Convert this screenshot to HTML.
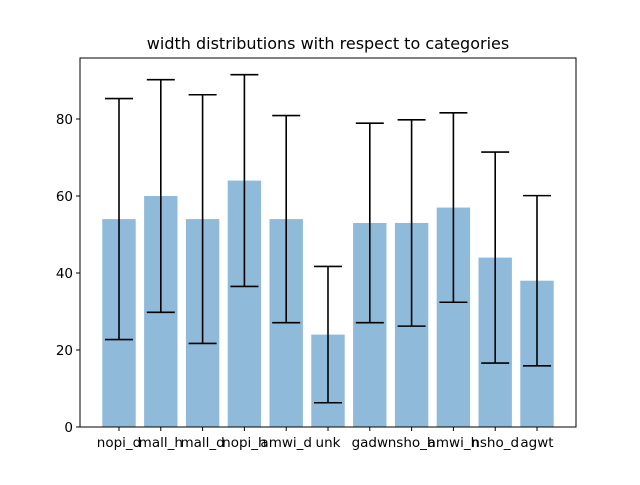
<!DOCTYPE html>
<html><head><meta charset="utf-8"><style>
body{margin:0;background:#fff}
svg{font-family:"DejaVu Sans","Liberation Sans",sans-serif}
</style></head><body>
<svg id="chart" width="640" height="480"></svg>
<script>
const categories=["nopi_d","mall_h","mall_d","nopi_h","amwi_d","unk","gadw","nsho_h","amwi_h","nsho_d","agwt"];
const means=[54,60,54,64,54,24,53,53,57,44,38];
const errors=[31.3,30.2,32.3,27.5,26.9,17.7,25.9,26.8,24.6,27.4,22.1];
const yTicks=[0,20,40,60,80];
const NS="http://www.w3.org/2000/svg";
const svg=document.getElementById('chart');
const L=80,R=576,T=58,B=427;
const y=v=>B-v*3.85;
const x=i=>119+i*41.8;
function mk(t,a){const e=document.createElementNS(NS,t);for(const k in a)e.setAttribute(k,a[k]);svg.appendChild(e);return e;}
const title=mk('text',{x:328,y:49,'text-anchor':'middle','font-size':16});
title.textContent='width distributions with respect to categories';


categories.forEach((c,i)=>{
 const b=mk('rect',{x:x(i)-16.7,y:y(means[i]),width:33.4,height:B-y(means[i]),fill:'#8fbada'});
 
 
});
categories.forEach((c,i)=>{
 const hi=y(means[i]+errors[i]),lo=y(means[i]-errors[i]);
 const g=mk('g',{stroke:'#000','stroke-width':1.6});
 
 
 [[x(i),hi,x(i),lo],[x(i)-14,hi,x(i)+14,hi],[x(i)-14,lo,x(i)+14,lo]].forEach(p=>{
  const l=document.createElementNS(NS,'line');
  l.setAttribute('x1',p[0]);l.setAttribute('y1',p[1]);l.setAttribute('x2',p[2]);l.setAttribute('y2',p[3]);g.appendChild(l);
 });
 mk('line',{x1:x(i),y1:B,x2:x(i),y2:B+4,stroke:'#000'});
 const t=mk('text',{x:x(i),y:B+20,'text-anchor':'middle','font-size':13.5});
 t.textContent=c;
 
 
});
yTicks.forEach(v=>{
 mk('line',{x1:L-4,y1:y(v),x2:L,y2:y(v),stroke:'#000'});
 const t=mk('text',{x:L-7,y:y(v)+5,'text-anchor':'end','font-size':13.5});
 t.textContent=v;
 
 
});
const f=mk('rect',{x:L,y:T,width:R-L,height:B-T,fill:'none',stroke:'#000','stroke-width':1});


</script>
</body></html>
